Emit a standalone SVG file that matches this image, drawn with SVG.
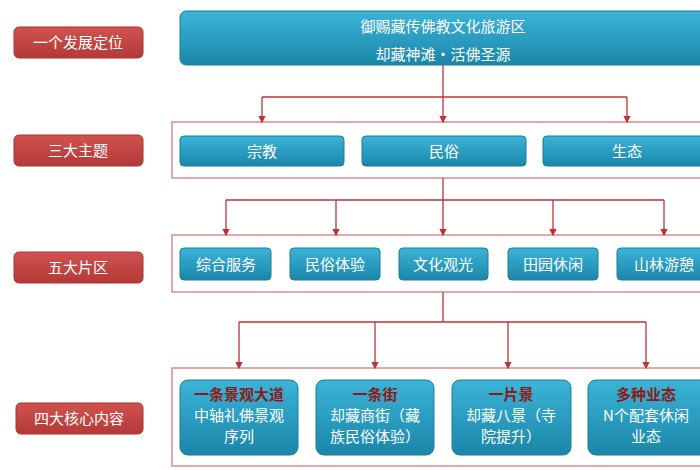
<svg xmlns="http://www.w3.org/2000/svg" width="700" height="470" viewBox="0 0 700 470">
<defs>
<linearGradient id="bl" x1="0" y1="0" x2="0" y2="1"><stop offset="0" stop-color="#3bb4d8"/><stop offset="1" stop-color="#1a86a8"/></linearGradient>
<linearGradient id="rd" x1="0" y1="0" x2="0" y2="1"><stop offset="0" stop-color="#d0524f"/><stop offset="1" stop-color="#b23a37"/></linearGradient>
<marker id="ar" markerWidth="6" markerHeight="6" refX="5" refY="3" orient="auto"><path d="M0,0 L6,3 L0,6 z" fill="#b8333a"/></marker>
</defs>
<style>
.lab{fill:url(#rd);stroke:#a33;stroke-width:1}
.box{fill:url(#bl);stroke:#1d7d9c;stroke-width:1}
.fr{fill:none;stroke:#e08a8e;stroke-width:1.5}
.t{font-family:"Noto Sans CJK SC","Liberation Serif",serif;fill:#fff;font-size:15px;text-anchor:middle}
.h{fill:#8b1a1a;font-weight:bold}
.c line,.c polyline{stroke:#c0303a;stroke-width:1.3;fill:none}
</style>
<rect width="700" height="470" fill="#fff"/>
<g id="labels">
<g id="l1"><rect class="lab" x="14" y="27" width="129" height="31" rx="5"/><text class="t" x="78" y="48">一个发展定位</text></g>
<g id="l2"><rect class="lab" x="14" y="135" width="129" height="31" rx="5"/><text class="t" x="78" y="156">三大主题</text></g>
<g id="l3"><rect class="lab" x="14" y="252" width="129" height="31" rx="5"/><text class="t" x="78" y="273">五大片区</text></g>
<g id="l4"><rect class="lab" x="16" y="403" width="127" height="31" rx="5"/><text class="t" x="79" y="424">四大核心内容</text></g>
</g>
<g id="frames">
<rect class="fr" x="172" y="122" width="540" height="56"/>
<rect class="fr" x="172" y="235" width="540" height="57"/>
<rect class="fr" x="172" y="368" width="540" height="98"/>
</g>
<g id="top"><rect class="box" x="180" y="11" width="540" height="54" rx="6"/><text class="t" x="443" y="32">御赐藏传佛教文化旅游区</text><text class="t" x="443" y="60">却藏神滩·活佛圣源</text></g>
<g id="themes">
<g id="n1"><rect class="box" x="180" y="136" width="164" height="30" rx="4"/><text class="t" x="262" y="157">宗教</text></g>
<g id="n2"><rect class="box" x="362" y="136" width="164" height="30" rx="4"/><text class="t" x="444" y="157">民俗</text></g>
<g id="n3"><rect class="box" x="543" y="136" width="170" height="30" rx="4"/><text class="t" x="627" y="157">生态</text></g>
</g>
<g id="zones">
<g id="z1"><rect class="box" x="180" y="248" width="91" height="32" rx="4"/><text class="t" x="226" y="270">综合服务</text></g>
<g id="z2"><rect class="box" x="290" y="248" width="90" height="32" rx="4"/><text class="t" x="335" y="270">民俗体验</text></g>
<g id="z3"><rect class="box" x="399" y="248" width="89" height="32" rx="4"/><text class="t" x="443" y="270">文化观光</text></g>
<g id="z4"><rect class="box" x="508" y="248" width="90" height="32" rx="4"/><text class="t" x="553" y="270">田园休闲</text></g>
<g id="z5"><rect class="box" x="617" y="248" width="95" height="32" rx="4"/><text class="t" x="664" y="270">山林游憩</text></g>
</g>
<g id="core">
<g id="k1"><rect class="box" x="180" y="380" width="118" height="75" rx="8"/><text class="t" x="239" y="400"><tspan class="h">一条景观大道</tspan><tspan x="239" dy="21">中轴礼佛景观</tspan><tspan x="239" dy="21">序列</tspan></text></g>
<g id="k2"><rect class="box" x="316" y="380" width="118" height="75" rx="8"/><text class="t" x="375" y="400"><tspan class="h">一条街</tspan><tspan x="375" dy="21">却藏商街（藏</tspan><tspan x="375" dy="21">族民俗体验）</tspan></text></g>
<g id="k3"><rect class="box" x="452" y="380" width="119" height="75" rx="8"/><text class="t" x="511" y="400"><tspan class="h">一片景</tspan><tspan x="511" dy="21">却藏八景（寺</tspan><tspan x="511" dy="21">院提升）</tspan></text></g>
<g id="k4"><rect class="box" x="588" y="380" width="124" height="75" rx="8"/><text class="t" x="646" y="400"><tspan class="h">多种业态</tspan><tspan x="646" dy="21">N个配套休闲</tspan><tspan x="646" dy="21">业态</tspan></text></g>
</g>
<g id="connectors" class="c">
<line x1="443" y1="65" x2="443" y2="122" marker-end="url(#ar)"/>
<line x1="262" y1="97" x2="627" y2="97"/>
<line x1="262" y1="97" x2="262" y2="122" marker-end="url(#ar)"/>
<line x1="627" y1="97" x2="627" y2="122" marker-end="url(#ar)"/>
<line x1="443" y1="178" x2="443" y2="235" marker-end="url(#ar)"/>
<line x1="226" y1="200" x2="664" y2="200"/>
<line x1="226" y1="200" x2="226" y2="235" marker-end="url(#ar)"/>
<line x1="336" y1="200" x2="336" y2="235" marker-end="url(#ar)"/>
<line x1="553" y1="200" x2="553" y2="235" marker-end="url(#ar)"/>
<line x1="664" y1="200" x2="664" y2="235" marker-end="url(#ar)"/>
<line x1="443" y1="292" x2="443" y2="322"/>
<line x1="239" y1="322" x2="646" y2="322"/>
<line x1="239" y1="322" x2="239" y2="368" marker-end="url(#ar)"/>
<line x1="375" y1="322" x2="375" y2="368" marker-end="url(#ar)"/>
<line x1="508" y1="322" x2="508" y2="368" marker-end="url(#ar)"/>
<line x1="646" y1="322" x2="646" y2="368" marker-end="url(#ar)"/>
</g>
</svg>
